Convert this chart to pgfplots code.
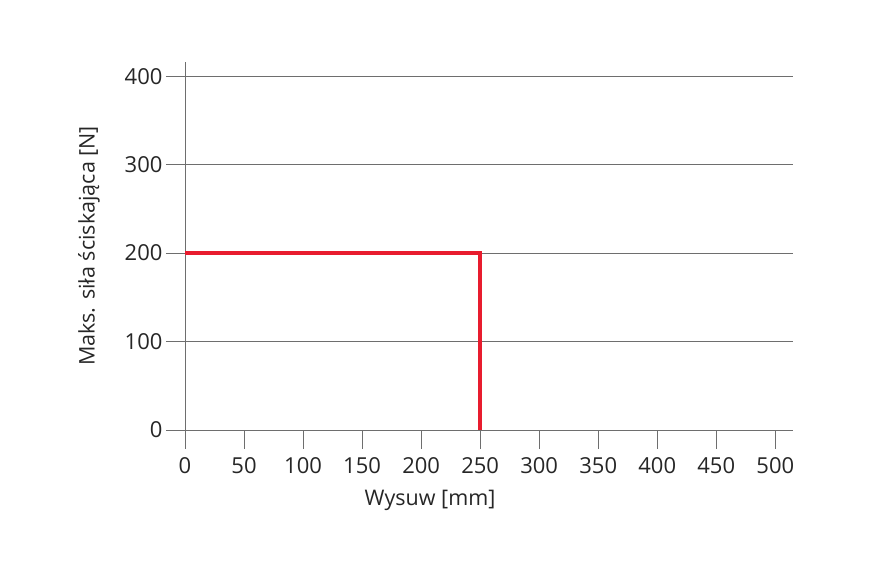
\documentclass[border=0pt]{standalone}
\usepackage{pgfplots}
\pgfplotsset{compat=1.18}
\usepackage{fontspec}
\setmainfont{Open Sans}
\definecolor{linered}{RGB}{232,28,46}
\definecolor{gridgray}{RGB}{110,110,110}
\begin{document}
\begin{tikzpicture}[x=1pt,y=1pt]
  \begin{axis}[
      at={(185pt,145pt)}, anchor=origin,
      scale only axis, width=608pt, height=368pt,
      xmin=0, xmax=515, ymin=0, ymax=416,
      axis x line=bottom, axis y line=left,
      axis line style={-, gridgray, line width=0.9pt},
      xtick={0,50,...,500}, ytick={0,100,...,400},
      tick align=outside, major tick length=19pt,
      tick style={gridgray, line width=0.9pt},
      ymajorgrids, grid style={gridgray, line width=0.9pt},
      /pgf/number format/assume math mode=true,
      ticklabel style={font=\fontsize{22}{26}\selectfont, text=black!85},
      xticklabel style={yshift=-5pt},
      yticklabel style={xshift=0pt},
      label style={font=\fontsize{21.5}{25}\selectfont, text=black!85},
      xlabel={Wysuw [mm]},
      x label style={at={(axis description cs:0.403,0)}, yshift=-70pt, anchor=center},
      ylabel={Maks. siła ściskająca [N]},
      y label style={at={(axis description cs:-0.158,0.5)}, anchor=center},
      clip=false,
    ]
    \addplot[linered, line width=4pt, line join=miter] coordinates {
      (0,200) (250,200) (250,0)
    };
  \end{axis}
  \pgfresetboundingbox
  \path (0,0) rectangle (885,575);
\end{tikzpicture}
\end{document}
